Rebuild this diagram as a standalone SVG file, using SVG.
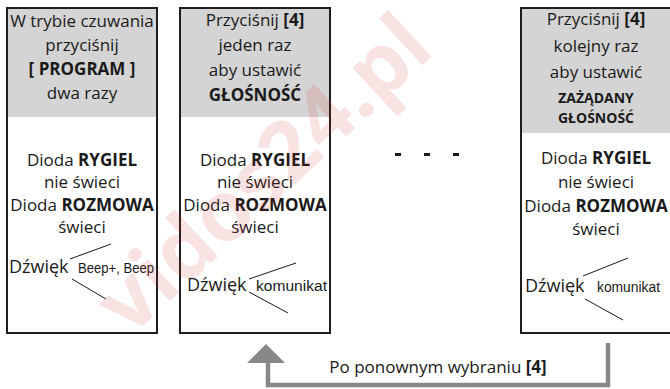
<svg xmlns="http://www.w3.org/2000/svg" width="670" height="389" viewBox="0 0 670 389">
<style>
.box{fill:#fff;stroke:#1e1e1e;stroke-width:2}
.hdr{fill:#d4d4d4}
.t{font-family:"Open Sans","Noto Sans",sans-serif;font-size:17px;fill:#1a1a1a;text-anchor:middle}
.b{font-weight:bold}
.s{font-family:"Open Sans","Noto Sans",sans-serif;font-size:14px;font-weight:bold;fill:#1a1a1a;text-anchor:middle}
.d{font-family:"Open Sans","Noto Sans",sans-serif;font-size:18px;fill:#1a1a1a}
.k{font-family:"Liberation Sans",Arial,sans-serif;font-size:14px;fill:#1a1a1a}
.ln{stroke:#1a1a1a;stroke-width:1;fill:none}
.wm{font-family:"Open Sans","Noto Sans",sans-serif;font-size:84px;font-weight:bold;fill:#d02828;opacity:0.13}
</style>

<g id="node1">
<rect class="box" x="7" y="8" width="150" height="325"/>
<rect class="hdr" x="8" y="9" width="148" height="108"/>
<text class="t" x="82" y="27">W trybie czuwania</text>
<text class="t" x="82" y="51">przyciśnij</text>
<text class="t b" x="82" y="75">[ PROGRAM ]</text>
<text class="t" x="82" y="99">dwa razy</text>
<text class="t" x="82" y="166">Dioda <tspan class="b">RYGIEL</tspan></text>
<text class="t" x="82" y="188">nie świeci</text>
<text class="t" x="82" y="211">Dioda <tspan class="b">ROZMOWA</tspan></text>
<text class="t" x="82" y="233">świeci</text>
<text class="d" x="9" y="273">Dźwięk</text>
<text class="k" x="78" y="273" font-size="12.5" textLength="76" lengthAdjust="spacingAndGlyphs">Beep+, Beep</text>
<line class="ln" x1="70" y1="259" x2="111" y2="244"/>
<line class="ln" x1="72" y1="279" x2="106" y2="299"/>
</g>

<g id="node2">
<rect class="box" x="180" y="8" width="150" height="325"/>
<rect class="hdr" x="181" y="9" width="148" height="108"/>
<text class="t" x="255" y="26">Przyciśnij <tspan class="b">[4]</tspan></text>
<text class="t" x="255" y="51">jeden raz</text>
<text class="t" x="255" y="76">aby ustawić</text>
<text class="t b" x="255" y="101">GŁOŚNOŚĆ</text>
<text class="t" x="255" y="166">Dioda <tspan class="b">RYGIEL</tspan></text>
<text class="t" x="255" y="188">nie świeci</text>
<text class="t" x="255" y="211">Dioda <tspan class="b">ROZMOWA</tspan></text>
<text class="t" x="255" y="233">świeci</text>
<text class="d" x="187" y="291">Dźwięk</text>
<text class="k" x="256" y="291" textLength="71" lengthAdjust="spacingAndGlyphs">komunikat</text>
<line class="ln" x1="249" y1="279" x2="296" y2="263"/>
<line class="ln" x1="249" y1="292" x2="288" y2="313"/>
</g>

<g id="node3">
<rect class="box" x="521" y="8" width="152" height="325"/>
<rect class="hdr" x="522" y="9" width="150" height="124"/>
<text class="t" x="596" y="25">Przyciśnij <tspan class="b">[4]</tspan></text>
<text class="t" x="596" y="52">kolejny raz</text>
<text class="t" x="596" y="78">aby ustawić</text>
<text class="s" x="596" y="103">ZAŻĄDANY</text>
<text class="s" x="596" y="123">GŁOŚNOŚĆ</text>
<text class="t" x="596" y="164">Dioda <tspan class="b">RYGIEL</tspan></text>
<text class="t" x="596" y="188">nie świeci</text>
<text class="t" x="596" y="212">Dioda <tspan class="b">ROZMOWA</tspan></text>
<text class="t" x="596" y="235">świeci</text>
<text class="d" x="525" y="292">Dźwięk</text>
<text class="k" x="597" y="292" textLength="63" lengthAdjust="spacingAndGlyphs">komunikat</text>
<line class="ln" x1="583" y1="276" x2="628" y2="258"/>
<line class="ln" x1="585" y1="299" x2="623" y2="320"/>
</g>

<g id="dots">
<rect x="395" y="153" width="6" height="3" fill="#1a1a1a"/>
<rect x="424" y="153" width="6" height="3" fill="#1a1a1a"/>
<rect x="453" y="153" width="6" height="3" fill="#1a1a1a"/>
</g>

<g id="connectors">
<polyline points="608,343 608,385 268,385 268,360" fill="none" stroke="#888" stroke-width="4.5"/>
<polygon points="266,344 247,363 285,363" fill="#888"/>
<text class="t" x="438" y="373" font-size="17.5">Po ponownym wybraniu <tspan class="b">[4]</tspan></text>
</g>

<text class="wm" transform="translate(130,338) rotate(-43)">vidos24.pl</text>
</svg>
